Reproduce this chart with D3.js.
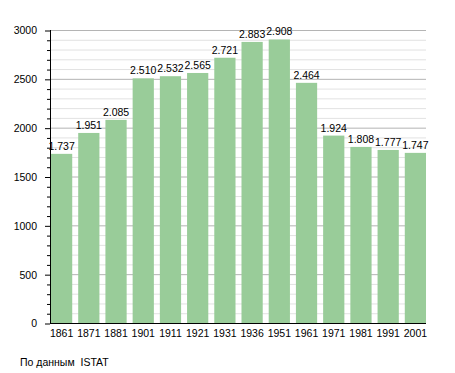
<!DOCTYPE html>
<html><head><meta charset="utf-8">
<script src="https://cdn.jsdelivr.net/npm/d3@7"></script>
<style>body{margin:0;background:#fff}svg{display:block}text{font-family:"Liberation Sans",Arial,sans-serif}</style>
</head><body>
<script>
const years = ["1861","1871","1881","1901","1911","1921","1931","1936","1951","1961","1971","1981","1991","2001"];
const population = [1737,1951,2085,2510,2532,2565,2721,2883,2908,2464,1924,1808,1777,1747];
const valueLabels = ["1.737","1.951","2.085","2.510","2.532","2.565","2.721","2.883","2.908","2.464","1.924","1.808","1.777","1.747"];
const yTicks = [0,500,1000,1500,2000,2500,3000];
const sourceText = "По данным  ISTAT";

const W = 455, H = 373;
const svg = d3.select("body").append("svg").attr("width", W).attr("height", H);

const x0 = 50, x1 = 426;
const x = d3.scaleBand().domain(years).range([48, 429]).paddingInner(0.22).paddingOuter(0.11);
const y = d3.scaleLinear().domain([0, 3000]).range([323.5, 30.5]);

// grid
const minor = d3.range(100, 3001, 100).filter(v => v % 500 !== 0);
svg.append("g").selectAll("line").data(minor).join("line")
  .attr("x1", x0).attr("x2", x1).attr("y1", d => y(d)).attr("y2", d => y(d))
  .attr("stroke", "#e2e2e2").attr("stroke-width", 1);
svg.append("g").selectAll("line").data(yTicks.filter(v => v > 0)).join("line")
  .attr("x1", x0).attr("x2", x1).attr("y1", d => y(d)).attr("y2", d => y(d))
  .attr("stroke", "#b4b4b4").attr("stroke-width", 1);

// bars
svg.append("g").selectAll("rect").data(population).join("rect")
  .attr("x", (d, i) => x(years[i]))
  .attr("width", x.bandwidth())
  .attr("y", d => y(d))
  .attr("height", d => y(0) - y(d))
  .attr("fill", "#99cc99");

// value labels
svg.append("g").selectAll("text").data(population).join("text")
  .attr("x", (d, i) => x(years[i]) + x.bandwidth() / 2)
  .attr("y", d => y(d) - 4)
  .attr("text-anchor", "middle")
  .attr("font-size", "10.5px")
  .attr("fill", "#000")
  .text((d, i) => valueLabels[i]);

// y axis
const yAxis = d3.axisLeft(y).tickValues(yTicks).tickSize(5).tickPadding(8).tickFormat(d3.format("d"));
const gy = svg.append("g").attr("transform", `translate(${x0},0)`).call(yAxis);
gy.select(".domain").remove();
gy.selectAll("line").attr("stroke", "#000");
gy.selectAll("text").attr("font-size", "10.5px").attr("font-family", "'Liberation Sans',Arial,sans-serif").attr("fill", "#000");
const yMinor = d3.axisLeft(y).tickValues(minor).tickSize(3).tickFormat("");
const gym = svg.append("g").attr("transform", `translate(${x0},0)`).call(yMinor);
gym.select(".domain").remove();
gym.selectAll("line").attr("stroke", "#000");
svg.append("line").attr("x1", x0 + 0.5).attr("x2", x0 + 0.5).attr("y1", y(3000) - 0.5).attr("y2", y(0) + 0.5)
  .attr("stroke", "#000");

// x axis
const xAxis = d3.axisBottom(x).tickSize(0).tickPadding(6);
const gx = svg.append("g").attr("transform", `translate(0,${y(0)})`).call(xAxis);
gx.select(".domain").remove();
gx.selectAll("text").attr("font-size", "10.5px").attr("font-family", "'Liberation Sans',Arial,sans-serif").attr("fill", "#000");
svg.append("line").attr("x1", x0).attr("x2", x1).attr("y1", y(0)).attr("y2", y(0)).attr("stroke", "#000");

svg.append("text").attr("x", 20).attr("y", 366).attr("font-size", "10.5px").attr("fill", "#000")
  .style("white-space", "pre").attr("xml:space", "preserve").text(sourceText);
</script>
</body></html>
